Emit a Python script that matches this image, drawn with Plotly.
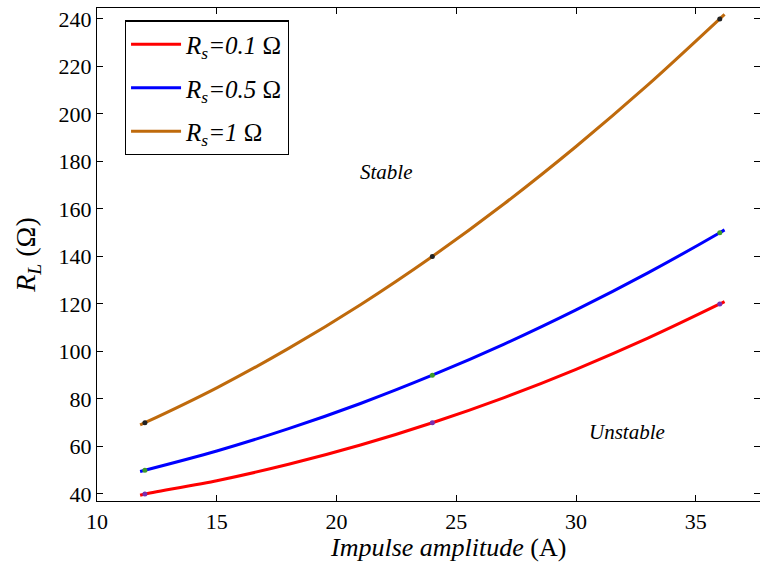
import plotly.graph_objects as go

# Load resistance boundary vs impulse amplitude for three source resistances
amplitude = [11.8, 12, 15, 18, 21, 24, 27, 30, 33, 36, 36.2]
rl_rs_01 = [39.5, 40, 45.6, 52.5, 60.6, 70, 80.6, 92.5, 105.6, 120, 121.0]
rl_rs_05 = [49.5, 50, 58.1, 67.5, 78.1, 90, 103.1, 117.5, 133.1, 150, 151.2]
rl_rs_1 = [69.1, 70, 84.7, 101.3, 119.7, 140, 162.2, 186.3, 212.2, 240, 241.9]

# Computed operating points
point_amplitude = [12, 24, 36]
pts_rs_01 = [40, 70, 120]
pts_rs_05 = [50, 90, 150]
pts_rs_1 = [70, 140, 240]

series = [
    ("<i>R</i><sub><i>s</i></sub><i>=0.1</i> Ω", rl_rs_01, pts_rs_01, "#ff0000", "#7a2fb0"),
    ("<i>R</i><sub><i>s</i></sub><i>=0.5</i> Ω", rl_rs_05, pts_rs_05, "#0000ff", "#3c9a2a"),
    ("<i>R</i><sub><i>s</i></sub><i>=1</i> Ω", rl_rs_1, pts_rs_1, "#bf6a0c", "#222222"),
]

serif = "Liberation Serif"

fig = go.Figure()
for i, (name, curve, pts, color, mcolor) in enumerate(series):
    fig.add_trace(go.Scatter(
        x=amplitude, y=curve, mode="lines", name=name, legendgroup=f"g{i}",
        line=dict(color=color, width=3, shape="spline", smoothing=0.6),
    ))
for i, (name, curve, pts, color, mcolor) in enumerate(series):
    fig.add_trace(go.Scatter(
        x=point_amplitude, y=pts, mode="markers", showlegend=False,
        legendgroup=f"g{i}",
        marker=dict(color=mcolor, size=5),
    ))

fig.add_annotation(x=22.1, y=175.6, text="<i>Stable</i>", showarrow=False,
                   font=dict(size=21, family=serif, color="black"))
fig.add_annotation(x=32.13, y=66.1, text="<i>Unstable</i>", showarrow=False,
                   font=dict(size=21, family=serif, color="black"))

# x-axis title placed as a paper annotation
fig.add_annotation(xref="paper", yref="paper", x=0.529, y=-0.095,
                   xanchor="center", yanchor="middle",
                   text="<i>Impulse amplitude</i> (A)", showarrow=False,
                   font=dict(size=26, family=serif, color="black"))

axis_common = dict(
    showline=True, linecolor="black", linewidth=1.3, mirror="ticks",
    ticks="inside", ticklen=6, tickcolor="black", tickwidth=1,
    showgrid=False, zeroline=False,
    tickfont=dict(size=22, family=serif, color="black"),
)

fig.update_layout(
    width=760, height=563,
    margin=dict(l=97, r=0, t=8, b=62),
    paper_bgcolor="white", plot_bgcolor="white",
    font=dict(family=serif, color="black"),
    xaxis=dict(
        range=[10, 37.68], tickvals=[10, 15, 20, 25, 30, 35],
        **axis_common,
    ),
    yaxis=dict(
        range=[37.05, 244.6], tickvals=list(range(40, 241, 20)),
        title=dict(text="<i>R</i><sub><i>L</i></sub> (Ω)", standoff=14,
                   font=dict(size=28, family=serif)),
        **axis_common,
    ),
    legend=dict(
        x=0.042, y=0.975, xanchor="left", yanchor="top",
        bgcolor="white", bordercolor="black", borderwidth=1.2,
        font=dict(size=25, family=serif, color="black"),
        tracegroupgap=8, itemwidth=50,
    ),
)

fig.write_html("out.html")
